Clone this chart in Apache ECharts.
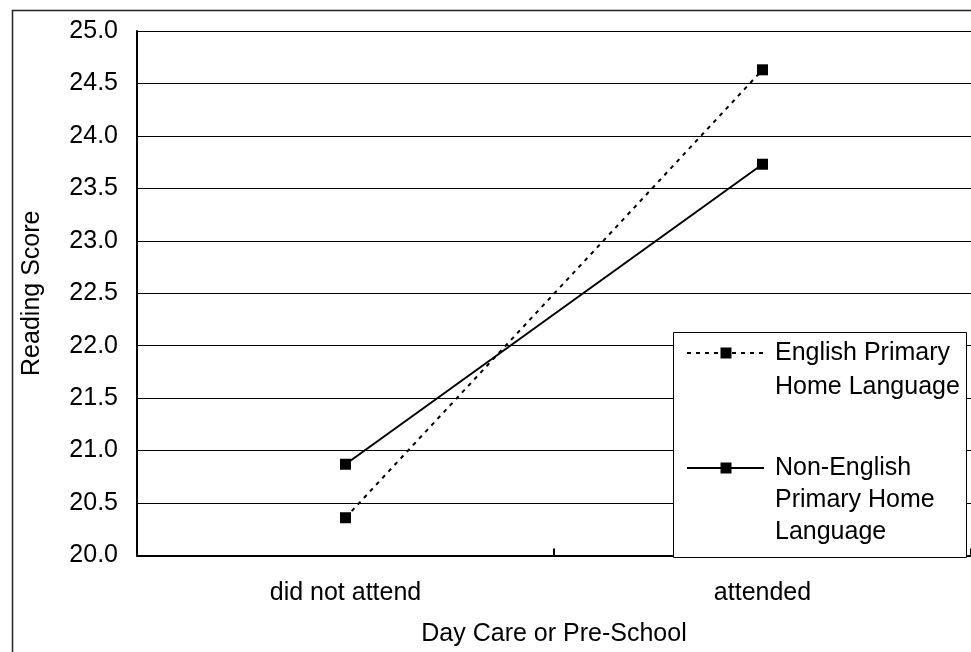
<!DOCTYPE html>
<html>
<head>
<meta charset="utf-8">
<script src="https://cdn.jsdelivr.net/npm/echarts@6/dist/echarts.min.js"></script>
<style>
html,body{margin:0;padding:0;background:#fff;}
#chart{width:971px;height:652px;}
</style>
</head>
<body>
<div id="chart"></div>
<script>
var categories = ['did not attend', 'attended'];
var englishValues = [20.36, 24.63];
var nonEnglishValues = [20.87, 23.73];
var seriesNames = ['English Primary\nHome Language', 'Non-English\nPrimary Home\nLanguage'];
var yAxisName = 'Reading Score';
var xAxisName = 'Day Care or Pre-School';
var yMin = 20, yMax = 25, yStep = 0.5;

var FONT = "'Liberation Sans', Arial, sans-serif";
var chart = echarts.init(document.getElementById('chart'), null, {renderer: 'canvas'});

var lineStyles = [
  {type: [4, 5], width: 2, color: '#000'},
  {type: 'solid', width: 2, color: '#000'}
];
var seriesData = [englishValues, nonEnglishValues];

var legendBox = {x: 673.5, y: 332.5, w: 293, h: 225};
var legendRows = [{cy: 353, lh: 34}, {cy: 468, lh: 32}];
var legendGraphics = [{
  type: 'rect', z: 100,
  shape: {x: legendBox.x, y: legendBox.y, width: legendBox.w, height: legendBox.h},
  style: {fill: '#fff', stroke: '#000', lineWidth: 1}
}];
seriesNames.forEach(function (name, i) {
  var r = legendRows[i];
  legendGraphics.push({
    type: 'line', z: 101,
    shape: {x1: 687, y1: r.cy, x2: 764, y2: r.cy},
    style: {stroke: '#000', lineWidth: 2, lineDash: lineStyles[i].type === 'solid' ? null : [4, 5]}
  });
  legendGraphics.push({
    type: 'rect', z: 102,
    shape: {x: 720.5, y: r.cy - 5.5, width: 11, height: 11},
    style: {fill: '#000'}
  });
  legendGraphics.push({
    type: 'text', z: 102,
    x: 775, y: r.cy - r.lh / 2,
    style: {text: name, font: '25px ' + FONT, fill: '#000', lineHeight: r.lh, verticalAlign: 'top', align: 'left'}
  });
});

var option = {
  backgroundColor: '#fff',
  animation: false,
  grid: {left: 137, top: 31, width: 838, bottom: 96.5, containLabel: false},
  xAxis: {
    type: 'category',
    data: categories,
    boundaryGap: true,
    name: xAxisName,
    nameLocation: 'middle',
    nameGap: 66,
    nameTextStyle: {fontFamily: FONT, fontSize: 25, color: '#000'},
    axisLine: {show: true, lineStyle: {color: '#000', width: 2}},
    axisTick: {show: true, inside: true, length: 7, lineStyle: {color: '#000', width: 2}},
    axisLabel: {margin: 25, fontFamily: FONT, fontSize: 25, color: '#000'},
    splitLine: {show: false}
  },
  yAxis: {
    type: 'value',
    min: yMin, max: yMax, interval: yStep,
    name: yAxisName,
    nameLocation: 'middle',
    nameRotate: 90,
    nameGap: 92,
    nameTextStyle: {fontFamily: FONT, fontSize: 25, color: '#000'},
    axisLine: {show: true, lineStyle: {color: '#000', width: 2}},
    axisTick: {show: false},
    axisLabel: {margin: 19, fontFamily: FONT, fontSize: 25, color: '#000',
      formatter: function (v) { return v.toFixed(1); }},
    splitLine: {show: true, lineStyle: {color: '#000', width: 1}}
  },
  series: seriesNames.map(function (name, i) {
    return {
      name: name,
      type: 'line',
      data: seriesData[i],
      symbol: 'rect',
      symbolSize: 11,
      itemStyle: {color: '#000'},
      lineStyle: lineStyles[i],
      z: 3 + i
    };
  }),
  graphic: [{
    type: 'rect', z: 200, silent: true,
    shape: {x: 12.5, y: 10.5, width: 1000, height: 700},
    style: {fill: 'none', stroke: '#222', lineWidth: 1.5}
  }].concat(legendGraphics)
};
chart.setOption(option);
</script>
</body>
</html>
